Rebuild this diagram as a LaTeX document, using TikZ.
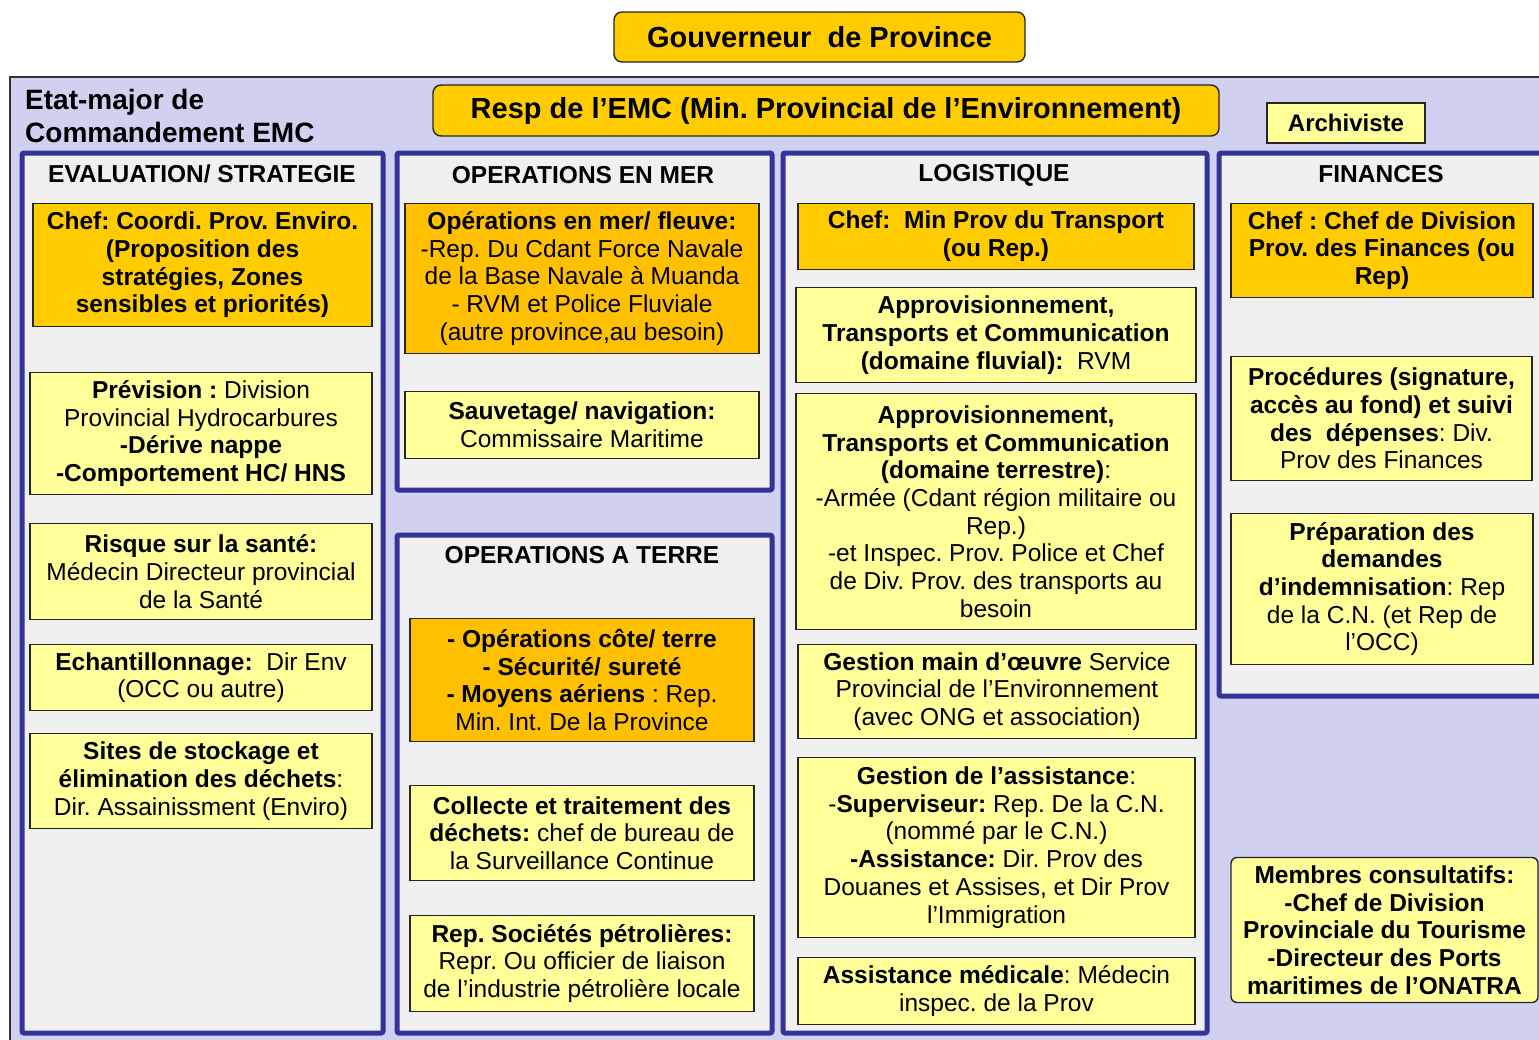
\documentclass[tikz,border=0pt]{standalone}
\usepackage{fontspec}
\setmainfont{Liberation Sans}
\usetikzlibrary{positioning}
\usepackage{xcolor}
\definecolor{chefyellow}{HTML}{FFCC00}
\definecolor{opsorange}{HTML}{FFC000}
\definecolor{paleyellow}{HTML}{FFFF99}
\definecolor{panelblue}{HTML}{333399}
\definecolor{panelgray}{HTML}{F0F0F0}
\definecolor{emclavender}{HTML}{D0D0F0}
\def\bodyfont{\fontsize{24.5}{27.7}\selectfont}
\def\bigfont{\fontsize{29}{33}\selectfont}
\frenchspacing

\begin{document}
\begin{tikzpicture}[x=1pt, y=-1pt]
    \tikzstyle{unit}=[draw=black!85, line width=1.4pt, align=center, inner sep=1pt, font=\bodyfont]
    \tikzstyle{chef unit}=[unit, fill=chefyellow, font=\bodyfont\bfseries]
    \tikzstyle{ops unit}=[unit, fill=opsorange]
    \tikzstyle{task unit}=[unit, fill=paleyellow]
    \tikzstyle{panel}=[draw=panelblue, line width=5pt, fill=panelgray, rounded corners=2pt]
    \tikzstyle{panel title}=[font=\bodyfont\bfseries, inner sep=0pt]

    \useasboundingbox (0,0) rectangle (1539,1039);

    % fond de l'etat-major
    \draw[draw=black!80, line width=1.2pt, fill=emclavender] (10,77) rectangle (1570,1070);

    \node[chef unit, rounded corners=8pt, minimum width=411pt, minimum height=50pt, font=\bigfont\bfseries] (gouverneur) at (819.5,37) {Gouverneur~ de Province};
    \node[anchor=north west, align=left, inner sep=0pt, font=\fontsize{28}{33}\selectfont\bfseries] (emc) at (25,89) {Etat-major de\\Commandement EMC};
    \node[chef unit, rounded corners=8pt, minimum width=786pt, minimum height=51pt, font=\bigfont\bfseries] (resp) at (826,110.5) {Resp de l’EMC (Min. Provincial de l’Environnement)};
    \node[task unit, minimum width=158pt, minimum height=40pt, font=\fontsize{24}{27}\selectfont\bfseries] (archiviste) at (1346,123) {Archiviste};

    % les cellules
    \draw[panel] (22,153) rectangle (383,1033);
    \draw[panel] (397,153) rectangle (772,490);
    \draw[panel] (397,535) rectangle (772,1033);
    \draw[panel] (783,153) rectangle (1207,1033);
    \draw[panel] (1219,153) rectangle (1570,696);

    \node[panel title] (evaluation) at (202,174) {EVALUATION/ STRATEGIE};
    \node[panel title] (mer) at (583,175) {OPERATIONS EN MER};
    \node[panel title] (terre) at (582,555) {OPERATIONS A TERRE};
    \node[panel title] (logistique) at (994,175) {LOGISTIQUE};
    \node[panel title] (finances) at (1381,174) {FINANCES};

    % evaluation / strategie
    \node[chef unit, minimum width=339pt, minimum height=123pt] (evalchef) at (202.5,265) {Chef: Coordi. Prov. Enviro.\\(Proposition des\\stratégies, Zones\\sensibles et priorités)};
    \node[task unit, minimum width=342pt, minimum height=122pt] (prevision) at (201,433.5) {\textbf{Prévision :} Division\\Provincial Hydrocarbures\\\textbf{-Dérive nappe}\\\textbf{-Comportement HC/ HNS}};
    \node[task unit, minimum width=342pt, minimum height=96pt] (sante) at (201,571.5) {\textbf{Risque sur la santé:}\\Médecin Directeur provincial\\de la Santé};
    \node[task unit, minimum width=342pt, minimum height=66pt] (echantillon) at (201,677.5) {\textbf{Echantillonnage:}~ Dir Env\\(OCC ou autre)};
    \node[task unit, minimum width=342pt, minimum height=95pt] (sites) at (201,781) {\textbf{Sites de stockage et}\\\textbf{élimination des déchets}:\\Dir. Assainissment (Enviro)};

    % operations en mer
    \node[ops unit, minimum width=354pt, minimum height=150pt] (opsmer) at (582,278.5) {\textbf{Opérations en mer/ fleuve:}\\-Rep. Du Cdant Force Navale\\de la Base Navale à Muanda\\- RVM et Police Fluviale\\(autre province,au besoin)};
    \node[task unit, minimum width=354pt, minimum height=67pt] (sauvetage) at (582,425) {\textbf{Sauvetage/ navigation:}\\Commissaire Maritime};

    % operations a terre
    \node[ops unit, minimum width=344pt, minimum height=123pt] (opsterre) at (582,680) {\textbf{- Opérations côte/ terre}\\\textbf{- Sécurité/ sureté}\\\textbf{- Moyens aériens} : Rep.\\Min. Int. De la Province};
    \node[task unit, minimum width=344pt, minimum height=95pt] (collecte) at (582,833) {\textbf{Collecte et traitement des}\\\textbf{déchets:} chef de bureau de\\la Surveillance Continue};
    \node[task unit, minimum width=344pt, minimum height=96pt] (petrolieres) at (582,963.5) {\textbf{Rep. Sociétés pétrolières:}\\Repr. Ou officier de liaison\\de l’industrie pétrolière locale};

    % logistique
    \node[chef unit, minimum width=396pt, minimum height=66pt] (logchef) at (996,236.5) {Chef:~ Min Prov du Transport\\(ou Rep.)};
    \node[task unit, minimum width=400pt, minimum height=95pt] (fluvial) at (996,335) {\textbf{Approvisionnement,}\\\textbf{Transports et Communication}\\\textbf{(domaine fluvial):}~ RVM};
    \node[task unit, minimum width=400pt, minimum height=236pt] (terrestre) at (996,511.5) {\textbf{Approvisionnement,}\\\textbf{Transports et Communication}\\\textbf{(domaine terrestre)}:\\-Armée (Cdant région militaire ou\\Rep.)\\-et Inspec. Prov. Police et Chef\\de Div. Prov. des transports au\\besoin};
    \node[task unit, minimum width=398pt, minimum height=94pt] (mainoeuvre) at (997,691.5) {\textbf{Gestion main d’œuvre} Service\\Provincial de l’Environnement\\(avec ONG et association)};
    \node[task unit, minimum width=397pt, minimum height=180pt] (assistance) at (996.5,847.5) {\textbf{Gestion de l’assistance}:\\-\textbf{Superviseur:} Rep. De la C.N.\\(nommé par le C.N.)\\\textbf{-Assistance:} Dir. Prov des\\Douanes et Assises, et Dir Prov\\l’Immigration};
    \node[task unit, minimum width=397pt, minimum height=67pt] (medicale) at (996.5,991) {\textbf{Assistance médicale}: Médecin\\inspec. de la Prov};

    % finances
    \node[chef unit, minimum width=302pt, minimum height=94pt] (finchef) at (1382,250.5) {Chef : Chef de Division\\Prov. des Finances (ou\\Rep)};
    \node[task unit, minimum width=301pt, minimum height=124pt] (procedures) at (1381.5,418.5) {\textbf{Procédures (signature,}\\\textbf{accès au fond) et suivi}\\\textbf{des~ dépenses}: Div.\\Prov des Finances};
    \node[task unit, minimum width=302pt, minimum height=151pt] (indemnisation) at (1382,589) {\textbf{Préparation des}\\\textbf{demandes}\\\textbf{d’indemnisation}: Rep\\de la C.N. (et Rep de\\l’OCC)};

    \node[task unit, rounded corners=6pt, minimum width=307pt, minimum height=145pt, font=\bodyfont\bfseries] (membres) at (1384.5,930) {Membres consultatifs:\\-Chef de Division\\Provinciale du Tourisme\\-Directeur des Ports\\maritimes de l’ONATRA};
\end{tikzpicture}
\end{document}
